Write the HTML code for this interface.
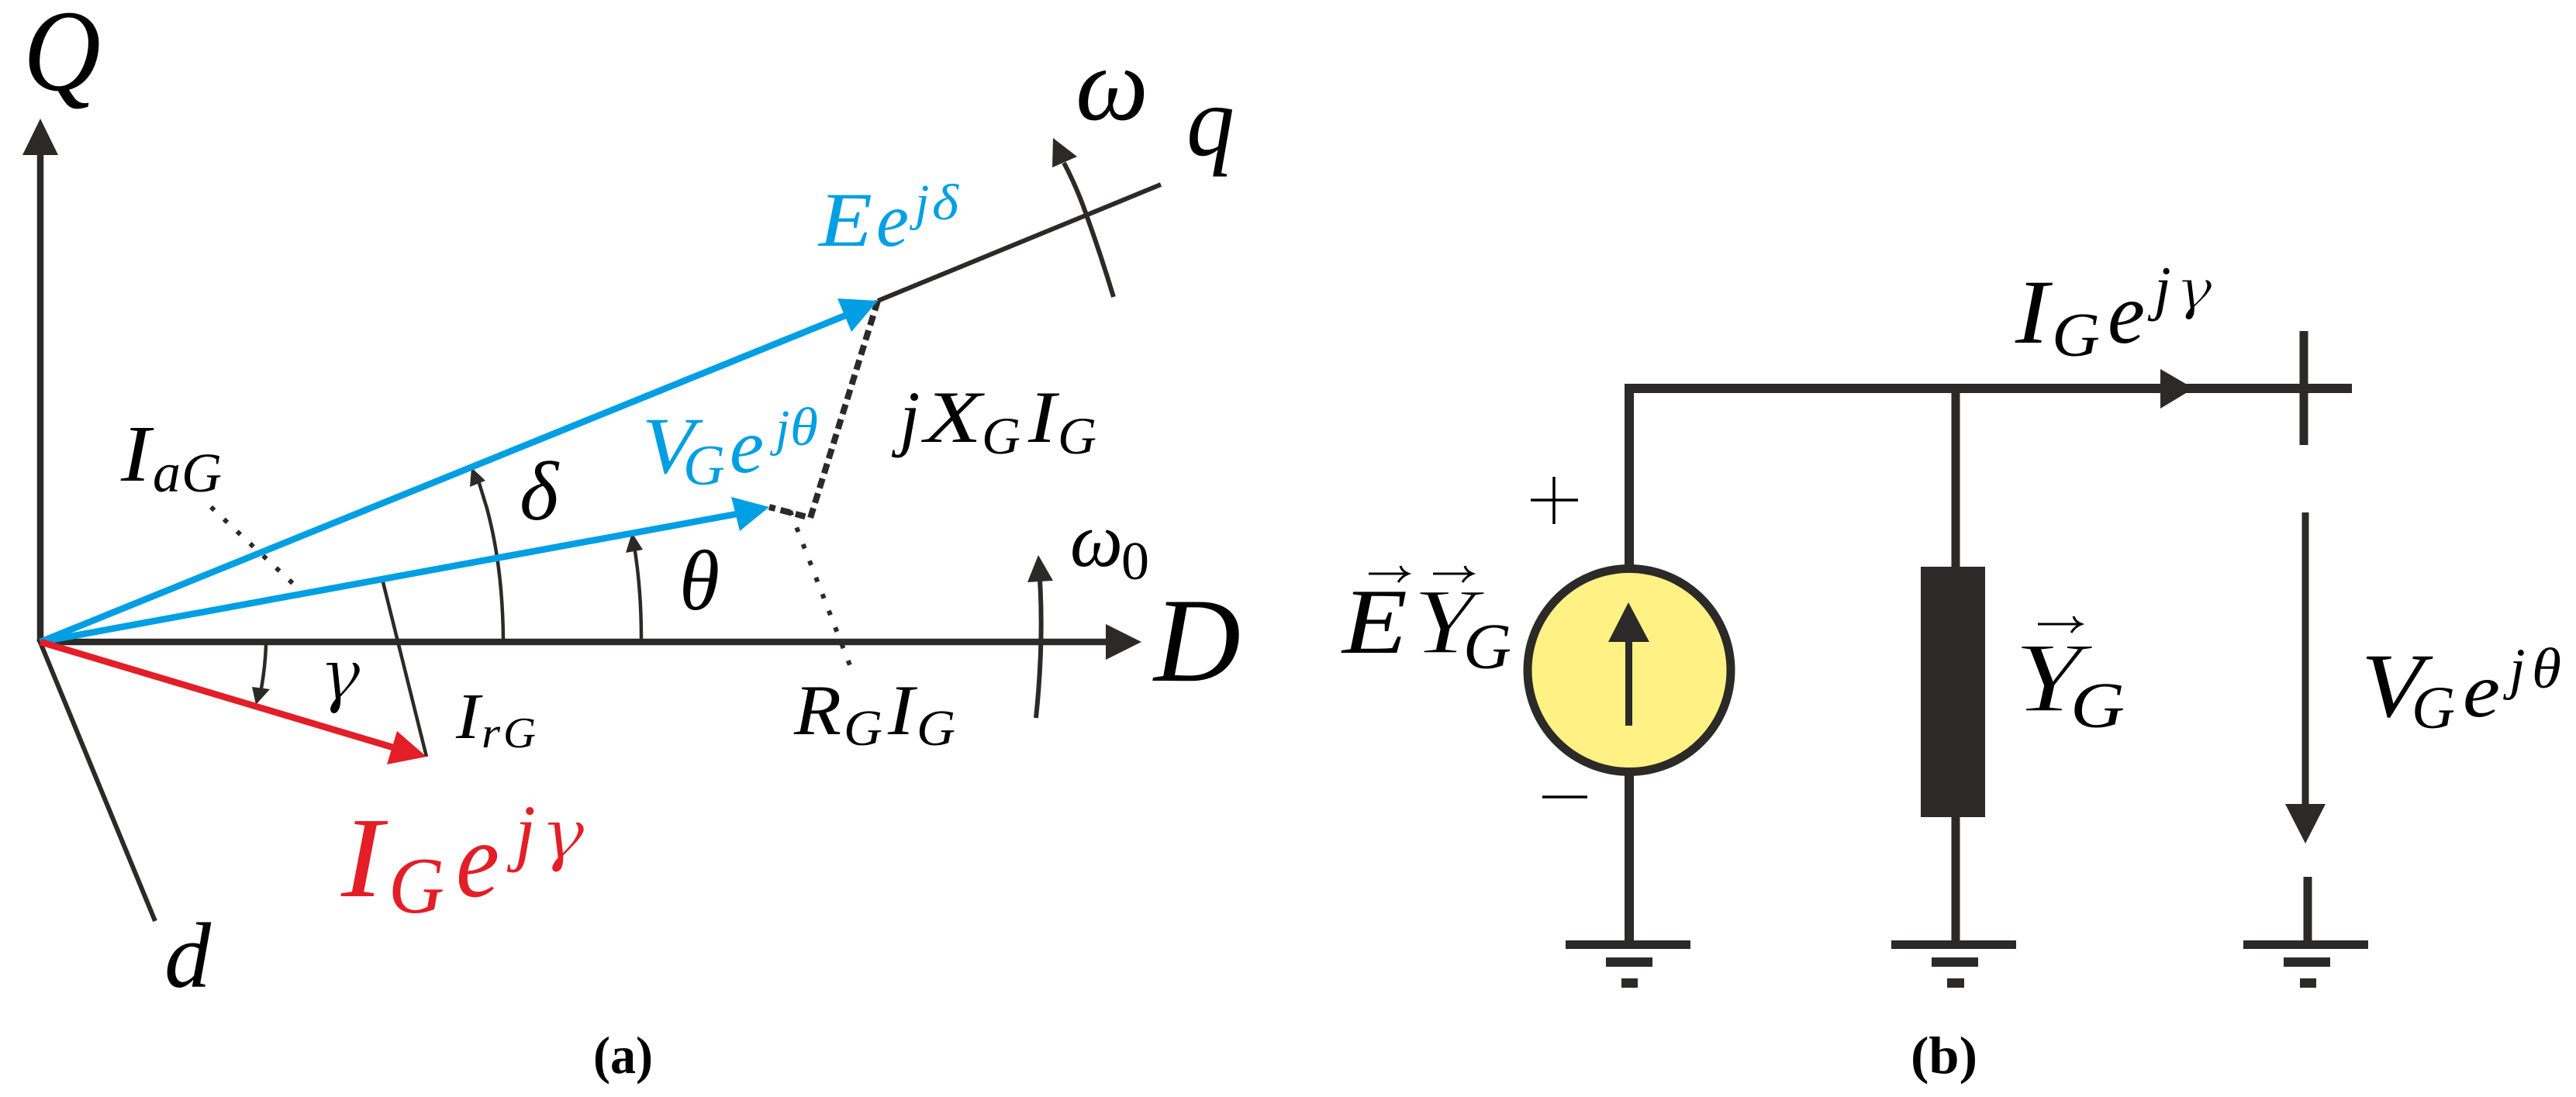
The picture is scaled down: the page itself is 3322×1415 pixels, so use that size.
<!DOCTYPE html>
<html><head><meta charset="utf-8"><style>
html,body{margin:0;padding:0;background:#fff}
svg{display:block}
text{font-family:"Liberation Serif",serif;font-style:italic;fill:#000}
.b text{fill:#009fe3}
.r text{fill:#e31e26}
.n{font-style:normal}
.g{font-family:"DejaVu Serif",serif;stroke:#fff;stroke-width:2}
.t{stroke:#fff;stroke-width:1.6}
</style></head><body>
<svg width="3322" height="1415" viewBox="0 0 3322 1415" xmlns="http://www.w3.org/2000/svg">
<rect width="3322" height="1415" fill="#fff"/>

<!-- ===== (a) phasor diagram ===== -->
<g fill="none" stroke="#2b2a29" stroke-linecap="butt">
  <path d="M52 828V195" stroke-width="8.5"/>
  <path d="M52 828H1430" stroke-width="8.5"/>
  <path d="M50 824L200 1188" stroke-width="6"/>
  <path d="M1132 388L1497 238" stroke-width="6"/>
  <path d="M649 824Q648 730 628 656L617 620" stroke-width="4.5"/>
  <path d="M827 824Q827 760 818 705" stroke-width="4.5"/>
  <path d="M343 832Q342 860 337 888" stroke-width="4.5"/>
  <path d="M493 747L550 976" stroke-width="4.5"/>
  <path d="M1436 383Q1420 330 1401 277Q1388 240 1372 210" stroke-width="6"/>
  <path d="M1336 926Q1346 830 1341 748" stroke-width="6"/>
  <path d="M1132 388L1045 668L992 654" stroke-width="8" stroke-dasharray="13 7"/>
  <path d="M272 654L392 766" stroke-width="6" stroke-dasharray="6 17"/>
  <path d="M1019 659L1096 858" stroke-width="6" stroke-dasharray="6 17"/>
</g>
<g fill="#2b2a29">
  <polygon points="52,153 29,200 75,200"/>
  <polygon points="1472,828 1426,805 1426,851"/>
  <polygon points="1358,178 1389,202 1357,216"/>
  <polygon points="1339,716 1325,751 1358,749"/>
  <polygon points="608,603 626,620 606,628"/>
  <polygon points="815,687 829,709 807,713"/>
  <polygon points="330,909 325,886 348,889"/>
</g>
<g fill="none">
  <path d="M52 828L1095 405" stroke="#009fe3" stroke-width="8.5"/>
  <path d="M52 828L950 663" stroke="#009fe3" stroke-width="8.5"/>
  <path d="M52 828L510 965" stroke="#e31e26" stroke-width="8.5"/>
</g>
<polygon fill="#009fe3" points="1132,388 1080,385 1098,428"/>
<polygon fill="#009fe3" points="992,654 943,641 954,685"/>
<polygon fill="#e31e26" points="550,976 512,943 499,986"/>

<!-- labels (a) -->
<text x="30" y="116" font-size="150" textLength="100" lengthAdjust="spacingAndGlyphs">Q</text>
<text x="1387" y="154" font-size="135" textLength="94" lengthAdjust="spacingAndGlyphs">ω</text>
<text x="1530" y="200" font-size="130" textLength="62" lengthAdjust="spacingAndGlyphs">q</text>
<g class="b">
  <text x="1056" y="317" font-size="100" textLength="69" lengthAdjust="spacingAndGlyphs">E</text>
  <text x="1130" y="317" font-size="100" textLength="42" lengthAdjust="spacingAndGlyphs">e</text>
  <text x="1180" y="283" font-size="66">j</text>
  <text x="1202" y="283" font-size="66" textLength="34" lengthAdjust="spacingAndGlyphs">δ</text>
  <text x="828" y="610" font-size="104" textLength="68" lengthAdjust="spacingAndGlyphs">V</text>
  <text x="881" y="625" font-size="74" textLength="54" lengthAdjust="spacingAndGlyphs">G</text>
  <text x="941" y="609" font-size="100" textLength="44" lengthAdjust="spacingAndGlyphs">e</text>
  <text x="1000" y="574" font-size="66">j</text>
  <text x="1019" y="574" font-size="70" textLength="36" lengthAdjust="spacingAndGlyphs">θ</text>
</g>
<text x="1160" y="570" font-size="95">j</text>
<text x="1192" y="570" font-size="95" textLength="74" lengthAdjust="spacingAndGlyphs">X</text>
<text x="1266" y="585" font-size="68" textLength="50" lengthAdjust="spacingAndGlyphs">G</text>
<text x="1326" y="570" font-size="95" textLength="36" lengthAdjust="spacingAndGlyphs">I</text>
<text x="1364" y="585" font-size="68" textLength="50" lengthAdjust="spacingAndGlyphs">G</text>

<text x="156" y="620" font-size="104" textLength="38" lengthAdjust="spacingAndGlyphs">I</text>
<text x="197" y="634" font-size="72" textLength="36" lengthAdjust="spacingAndGlyphs">a</text>
<text x="234" y="634" font-size="72" textLength="52" lengthAdjust="spacingAndGlyphs">G</text>

<text x="670" y="670" font-size="108" textLength="50" lengthAdjust="spacingAndGlyphs">δ</text>
<text x="876" y="786" font-size="110" textLength="52" lengthAdjust="spacingAndGlyphs">θ</text>
<text class="g" x="411" y="902" font-size="92" textLength="54" lengthAdjust="spacingAndGlyphs">γ</text>

<text x="588" y="952" font-size="84" textLength="31" lengthAdjust="spacingAndGlyphs">I</text>
<text x="621" y="964" font-size="56" textLength="24" lengthAdjust="spacingAndGlyphs">r</text>
<text x="649" y="964" font-size="56" textLength="42" lengthAdjust="spacingAndGlyphs">G</text>

<g class="r">
  <text x="440" y="1156" font-size="148" textLength="54" lengthAdjust="spacingAndGlyphs">I</text>
  <text x="501" y="1177" font-size="104" textLength="72" lengthAdjust="spacingAndGlyphs">G</text>
  <text x="588" y="1156" font-size="140" textLength="56" lengthAdjust="spacingAndGlyphs">e</text>
  <text x="664" y="1105" font-size="96">j</text>
  <text class="g" x="696" y="1107" font-size="90" textLength="58" lengthAdjust="spacingAndGlyphs">γ</text>
</g>
<text x="212" y="1273" font-size="120" textLength="60" lengthAdjust="spacingAndGlyphs">d</text>
<text x="1380" y="730" font-size="100" textLength="68" lengthAdjust="spacingAndGlyphs">ω</text>
<text class="n" x="1446" y="747" font-size="70" textLength="36" lengthAdjust="spacingAndGlyphs">0</text>
<text x="1488" y="878" font-size="155" textLength="112" lengthAdjust="spacingAndGlyphs">D</text>
<text x="1024" y="947" font-size="92" textLength="61" lengthAdjust="spacingAndGlyphs">R</text>
<text x="1088" y="961" font-size="66" textLength="50" lengthAdjust="spacingAndGlyphs">G</text>
<text x="1145" y="947" font-size="92" textLength="34" lengthAdjust="spacingAndGlyphs">I</text>
<text x="1182" y="961" font-size="66" textLength="50" lengthAdjust="spacingAndGlyphs">G</text>
<text class="n" x="765" y="1384" font-size="68" font-weight="bold" style="font-style:normal" textLength="77" lengthAdjust="spacingAndGlyphs">(a)</text>

<!-- ===== (b) circuit ===== -->
<g fill="none" stroke="#2b2a29">
  <path d="M2101 733V501H3033" stroke-width="12"/>
  <path d="M2101 995V1218" stroke-width="12"/>
  <path d="M2522 501V1218" stroke-width="11"/>
  <path d="M2971 427V574" stroke-width="11"/>
  <path d="M2973 661V1045" stroke-width="9"/>
  <path d="M2976 1131V1218" stroke-width="11"/>
</g>
<circle cx="2101" cy="864.5" r="131" fill="#fff183" stroke="#2b2a29" stroke-width="11"/>
<g fill="#2b2a29">
  <rect x="2096" y="825" width="9" height="111"/>
  <polygon points="2100,777 2074,828 2127,828"/>
  <rect x="2477" y="731" width="83" height="323"/>
  <polygon points="2829,501 2786,476 2786,527"/>
  <polygon points="2973,1088 2947,1037 2999,1037"/>
  <rect x="2019" y="1213" width="161" height="11"/>
  <rect x="2071" y="1235" width="60" height="12"/>
  <rect x="2091" y="1262" width="21" height="12"/>
  <rect x="2439" y="1213" width="161" height="11"/>
  <rect x="2491" y="1235" width="60" height="12"/>
  <rect x="2511" y="1262" width="22" height="12"/>
  <rect x="2893" y="1213" width="161" height="11"/>
  <rect x="2945" y="1235" width="60" height="12"/>
  <rect x="2966" y="1262" width="21" height="12"/>
</g>
<g stroke="#000" stroke-width="3.5" fill="none">
  <path d="M1974 645H2035M2004 615V676"/>
  <path d="M1989 1028H2047"/>
</g>
<g fill="none" stroke="#000" stroke-width="3">
  <path d="M1765 740H1814M1806 730Q1808 737 1816 740Q1808 743 1803 751"/>
  <path d="M1848 740H1897M1889 730Q1891 737 1899 740Q1891 743 1886 751"/>
  <path d="M2628 805H2682M2674 795Q2676 802 2684 805Q2676 808 2671 816"/>
</g>
<text x="1731" y="842" font-size="120" textLength="84" lengthAdjust="spacingAndGlyphs">E</text>
<text class="t" x="1822" y="842" font-size="120" textLength="80" lengthAdjust="spacingAndGlyphs">Y</text>
<text x="1887" y="862" font-size="84" textLength="62" lengthAdjust="spacingAndGlyphs">G</text>
<text class="t" x="2597" y="917" font-size="128" textLength="88" lengthAdjust="spacingAndGlyphs">Y</text>
<text x="2670" y="938" font-size="84" textLength="70" lengthAdjust="spacingAndGlyphs">G</text>
<text x="2599" y="442" font-size="118" textLength="43" lengthAdjust="spacingAndGlyphs">I</text>
<text x="2646" y="459" font-size="80" textLength="62" lengthAdjust="spacingAndGlyphs">G</text>
<text x="2718" y="442" font-size="112" textLength="48" lengthAdjust="spacingAndGlyphs">e</text>
<text x="2778" y="398" font-size="78">j</text>
<text class="g" x="2805" y="398" font-size="72" textLength="48" lengthAdjust="spacingAndGlyphs">γ</text>
<text x="3045" y="924" font-size="118" textLength="80" lengthAdjust="spacingAndGlyphs">V</text>
<text x="3110" y="939" font-size="78" textLength="56" lengthAdjust="spacingAndGlyphs">G</text>
<text x="3176" y="924" font-size="100" textLength="48" lengthAdjust="spacingAndGlyphs">e</text>
<text x="3236" y="887" font-size="74">j</text>
<text x="3265" y="887" font-size="74" textLength="38" lengthAdjust="spacingAndGlyphs">θ</text>
<text class="n" x="2464" y="1384" font-size="68" font-weight="bold" style="font-style:normal" textLength="86" lengthAdjust="spacingAndGlyphs">(b)</text>
</svg>
</body></html>
